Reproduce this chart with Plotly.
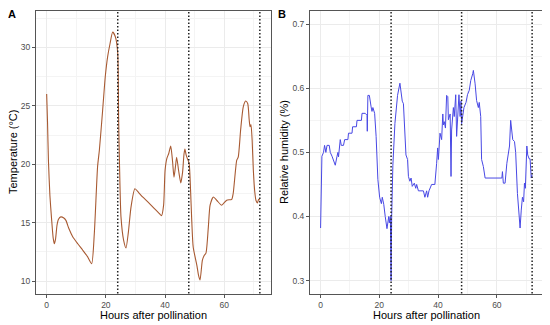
import plotly.graph_objects as go

# Temperature (panel A)
temp_hours = [0.0, 0.3, 0.6, 1.1, 1.7, 2.2, 2.6, 3.0, 3.5, 4.0, 4.8, 5.8, 6.5, 7.5, 8.8, 10.5, 12.2, 13.8, 15.2,
              16.1, 17.2, 17.8, 18.9, 19.8, 20.6, 21.4, 22.3, 23.2, 24.0, 24.3, 24.6, 25.1, 26.0, 26.8, 27.6,
              28.5, 29.8, 31.0, 32.4, 34.5, 36.4, 38.0, 38.8, 39.5, 40.0, 40.6, 41.2, 41.9, 42.5, 43.0, 43.5,
              43.9, 44.6, 45.3, 45.9, 46.4, 46.7, 47.1, 47.5, 48.1, 48.6, 49.0, 49.5, 50.7, 51.3, 51.8, 52.6,
              53.2, 53.8, 54.6, 55.2, 56.3, 57.5, 59.1, 60.8, 62.5, 63.0, 64.2, 64.7, 65.5, 66.4, 67.2, 67.9,
              68.4, 68.7, 69.0, 69.4, 69.8, 70.3, 70.7, 71.2, 71.6, 72.0]
temp_values = [26.0, 23.5, 20.3, 17.3, 15.2, 13.7, 13.2, 13.6, 14.8, 15.3, 15.5, 15.4, 15.2, 14.5, 13.8, 13.2, 12.65, 12.1, 11.5,
               14.1, 19.8, 21.2, 24.6, 27.5, 29.2, 30.3, 31.3, 30.9, 29.5, 24.0, 20.0, 15.5, 13.5, 12.85, 14.2,
               16.35, 17.9, 17.6, 17.2, 16.7, 16.2, 15.8, 15.6, 16.5, 19.5, 20.5, 20.9, 21.55, 20.3, 18.9, 19.8,
               20.6, 19.4, 18.4, 19.3, 20.9, 21.3, 20.8, 20.5, 20.1, 17.8, 15.2, 12.9, 11.4, 10.5, 10.1, 11.8,
               12.2, 12.4, 14.6, 16.5, 17.2, 16.9, 16.5, 16.93, 17.0, 17.5, 20.35, 20.6, 22.9, 24.9, 25.4, 25.2,
               23.8, 23.2, 23.4, 22.06, 19.5, 17.6, 16.9, 16.7, 17.0, 16.93]

# Relative humidity (panel B)
rh_hours = [0.0, 0.45, 1.0, 1.36, 1.8, 2.2, 2.95, 3.3, 3.9, 4.4, 5.0, 5.6, 5.9, 6.1, 6.7, 7.05, 7.8, 8.2, 9.3, 9.5,
            10.7, 10.9, 12.2, 12.4, 13.9, 14.1, 15.2, 15.8, 15.9, 16.1, 16.6, 17.2, 17.5, 17.8, 18.4, 18.9, 19.5,
            20.1, 20.7, 21.0, 21.5, 22.0, 22.6, 23.2, 23.4, 23.75, 24.0, 24.2, 24.6, 25.3, 25.9, 26.2, 27.0,
            27.8, 28.2, 28.7, 29.06, 29.6, 29.9, 30.4, 30.8, 31.2, 31.9, 32.4, 32.7, 33.3, 35.0, 35.5, 36.1,
            36.45, 36.9, 37.8, 38.9, 39.5, 39.85, 40.1, 40.65, 41.2, 41.6, 41.8, 42.1, 42.5, 42.9, 43.3, 43.5,
            44.1, 44.4, 44.6, 45.2, 45.5, 46.0, 46.3, 46.7, 47.1, 47.5, 47.8, 48.0, 48.4, 48.8, 49.5, 50.0,
            50.6, 51.1, 51.8, 52.0, 52.6, 53.1, 53.7, 54.0, 54.5, 54.8, 55.4, 56.0, 61.7, 61.9, 62.2, 62.8,
            63.4, 63.7, 63.9, 64.3, 64.7, 65.1, 65.4, 66.0, 66.4, 67.0, 67.7, 67.9, 68.3, 68.7, 69.1, 69.4,
            69.7, 70.2, 70.5, 71.0, 71.3, 71.7, 72.0]
rh_values = [0.382, 0.494, 0.50, 0.511, 0.50, 0.511, 0.511, 0.50, 0.494, 0.486, 0.48, 0.494, 0.50, 0.493, 0.52, 0.511, 0.511, 0.52, 0.52, 0.53,
             0.53, 0.54, 0.54, 0.55, 0.55, 0.561, 0.561, 0.558, 0.533, 0.589, 0.589, 0.571, 0.564, 0.57, 0.561, 0.525, 0.458,
             0.43, 0.42, 0.43, 0.419, 0.40, 0.381, 0.40, 0.39, 0.40, 0.30, 0.40, 0.48, 0.545, 0.58, 0.589, 0.608,
             0.58, 0.576, 0.525, 0.496, 0.489, 0.4625, 0.455, 0.46, 0.447, 0.452, 0.444, 0.45, 0.44, 0.44, 0.43, 0.44,
             0.43, 0.44, 0.45, 0.45, 0.483, 0.507, 0.489, 0.53, 0.52, 0.56, 0.543, 0.548, 0.538, 0.589, 0.587, 0.551,
             0.56, 0.4625, 0.535, 0.57, 0.556, 0.59, 0.525, 0.57, 0.59, 0.556, 0.58, 0.545, 0.556, 0.57, 0.578, 0.59,
             0.597, 0.612, 0.623, 0.628, 0.607, 0.581, 0.57, 0.578, 0.556, 0.489, 0.478, 0.46, 0.46, 0.47, 0.452, 0.452,
             0.483, 0.494, 0.50, 0.51, 0.55, 0.535, 0.52, 0.517, 0.50, 0.436, 0.40, 0.382, 0.41, 0.43, 0.423, 0.452,
             0.444, 0.51, 0.496, 0.49, 0.49, 0.46, 0.465]

day_marks = [24, 48, 72]
x_ticks = [0, 20, 40, 60]
temp_ticks = [10, 15, 20, 25, 30]
rh_ticks = [0.3, 0.4, 0.5, 0.6, 0.7]

OFF = 8
W, H = 550 - OFF, 325 - OFF
FONT = "Arial, Liberation Sans, sans-serif"

def fx(px):
    return (px - OFF) / W

def fy(py):
    return 1 - (py - OFF) / H

fig = go.Figure()
fig.add_trace(go.Scatter(x=temp_hours, y=temp_values, mode="lines",
                         line=dict(color="#A85A32", width=1.1, shape="spline", smoothing=0.6),
                         xaxis="x", yaxis="y", showlegend=False))
fig.add_trace(go.Scatter(x=rh_hours, y=rh_values, mode="lines",
                         line=dict(color="#4848E4", width=1.0),
                         xaxis="x2", yaxis="y2", showlegend=False))

grid = "#EBEBEB"
common_axis = dict(showgrid=True, gridcolor=grid, gridwidth=0.8, automargin=False,
                   minor=dict(showgrid=True, gridcolor="#F4F4F4", gridwidth=0.5),
                   showline=True, linecolor="#555555", linewidth=1, mirror=True,
                   ticks="outside", ticklen=3, tickcolor="#555555", tickwidth=0.8,
                   tickfont=dict(family=FONT, size=8.5, color="#4D4D4D"), zeroline=False)

fig.update_layout(
    width=W, height=H, margin=dict(l=0, r=0, t=0, b=0),
    paper_bgcolor="white", plot_bgcolor="white",
    xaxis=dict(domain=[fx(36), fx(270.5)], range=[-3.6, 75.6], tickvals=x_ticks, anchor="y", **common_axis),
    yaxis=dict(domain=[fy(293.5), fy(11)], range=[8.95, 33.1], tickvals=temp_ticks, anchor="x", **common_axis),
    xaxis2=dict(domain=[fx(310), fx(542.7)], range=[-3.6, 75.6], tickvals=x_ticks, anchor="y2", **common_axis),
    yaxis2=dict(domain=[fy(293.5), fy(11)], range=[0.2798, 0.7207], tickvals=rh_ticks, anchor="x2", **common_axis),
)
fig.update_xaxes(minor=dict(tickvals=[10, 30, 50, 70]))
fig.update_yaxes(minor=dict(tickvals=[12.5, 17.5, 22.5, 27.5, 32.5]), selector=dict(anchor="x"))
fig.update_yaxes(minor=dict(tickvals=[0.35, 0.45, 0.55, 0.65]), selector=dict(anchor="x2"))

for xr in ["x", "x2"]:
    yr = "y" if xr == "x" else "y2"
    for d in day_marks:
        fig.add_shape(type="line", xref=xr, yref=yr + " domain", x0=d, x1=d, y0=0, y1=1,
                      line=dict(color="#222222", width=1.5, dash="1.5px,2px"))

def label(text, px, py, size=11, angle=0):
    return dict(text=text, x=fx(px), y=fy(py), xref="paper", yref="paper", showarrow=False,
                xanchor="center", yanchor="middle", textangle=angle,
                font=dict(family=FONT, size=size, color="black"))

ann = [
    label("<b>A</b>", 12, 14),
    label("<b>B</b>", 282, 14),
    label("Hours after pollination", 153, 314.5),
    label("Hours after pollination", 426, 314.5),
    label("Temperature (°C)", 13, 152, angle=-90),
    label("Relative humidity (%)", 284, 152, angle=-90),
]
fig.update_layout(annotations=ann)

fig.write_html("out.html")
